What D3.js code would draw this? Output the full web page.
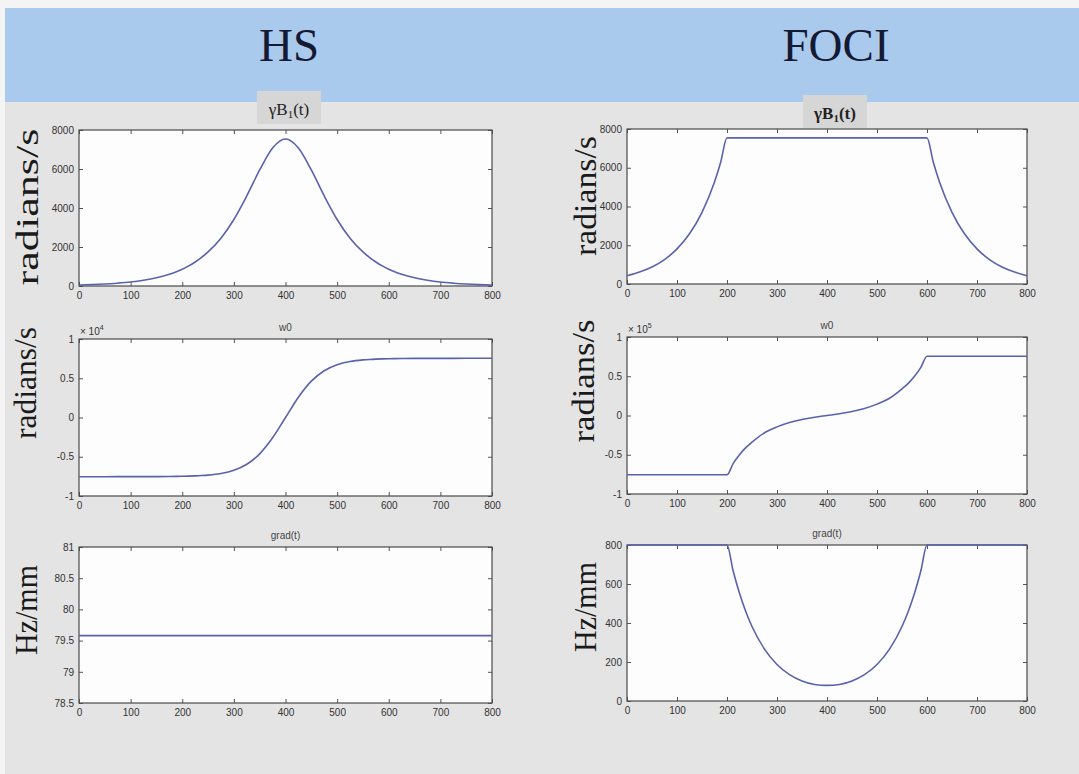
<!DOCTYPE html>
<html>
<head>
<meta charset="utf-8">
<script src="https://cdn.jsdelivr.net/npm/d3@7"></script>
<style>
  body { margin: 0; background: #f4f4f4; }
  svg { display: block; }
</style>
</head>
<body>
<svg id="chart" width="1079" height="774"></svg>
<script>
// sample times (x axis), a bit denser around the FOCI break points
var tGrid = [0, 25, 50, 75, 100, 125, 150, 175, 187.5, 200, 212.5, 225, 237.5, 250, 275, 300, 325, 350, 375, 400,
             425, 450, 475, 500, 525, 550, 562.5, 575, 587.5, 600, 612.5, 625, 650, 675, 700, 725, 750, 775, 800];

// gamma B1(t), radians/s
var hsB1 = [50, 70, 100, 145, 205, 295, 420, 600, 720, 860, 1030, 1230, 1470, 1750, 2450, 3410, 4620, 5950, 7080, 7540,
            7080, 5950, 4620, 3410, 2450, 1750, 1470, 1230, 1030, 860, 720, 600, 420, 295, 205, 145, 100, 70, 50];
var fociB1 = [430, 620, 880, 1260, 1810, 2590, 3700, 5270, 6300, 7540, 7540, 7540, 7540, 7540, 7540, 7540, 7540, 7540, 7540, 7540,
              7540, 7540, 7540, 7540, 7540, 7540, 7540, 7540, 7540, 7540, 6300, 5270, 3700, 2590, 1810, 1260, 880, 620, 430];

// w0, radians/s
var hsW0 = [-7540, -7540, -7539, -7538, -7537, -7534, -7528, -7516, -7505, -7491, -7469, -7439, -7397, -7337, -7133, -6723, -5961, -4627, -2586, 0,
            2586, 4627, 5961, 6723, 7133, 7337, 7397, 7439, 7469, 7491, 7505, 7516, 7528, 7534, 7537, 7538, 7539, 7540, 7540];
var fociW0 = [-75400, -75400, -75400, -75400, -75400, -75400, -75400, -75400, -75400, -75400, -61000, -50000, -41000, -34000, -22000, -14500, -9000, -5000, -2200, 0,
              2200, 5000, 9000, 14500, 22000, 34000, 41000, 50000, 61000, 75400, 75400, 75400, 75400, 75400, 75400, 75400, 75400, 75400, 75400];

// grad(t), Hz/mm
var hsGrad = [79.58, 79.58, 79.58, 79.58, 79.58, 79.58, 79.58, 79.58, 79.58, 79.58, 79.58, 79.58, 79.58, 79.58, 79.58, 79.58, 79.58, 79.58, 79.58, 79.58,
              79.58, 79.58, 79.58, 79.58, 79.58, 79.58, 79.58, 79.58, 79.58, 79.58, 79.58, 79.58, 79.58, 79.58, 79.58, 79.58, 79.58, 79.58, 79.58];
var fociGrad = [800, 800, 800, 800, 800, 800, 800, 800, 800, 800, 665, 552, 459, 382, 266, 187, 135, 103, 85, 80,
                85, 103, 135, 187, 266, 382, 459, 552, 665, 800, 800, 800, 800, 800, 800, 800, 800, 800, 800];

// tick labels
var xTicks = [0, 100, 200, 300, 400, 500, 600, 700, 800];
var b1Ticks = [0, 2000, 4000, 6000, 8000];
var w0Ticks = [-1, -0.5, 0, 0.5, 1];
var hsGradTicks = [78.5, 79, 79.5, 80, 80.5, 81];
var fociGradTicks = [0, 200, 400, 600, 800];

var svg = d3.select('#chart');

// page background
svg.append('rect').attr('x', 5).attr('y', 8).attr('width', 1074).attr('height', 766).attr('fill', '#e4e4e4');
svg.append('rect').attr('x', 5).attr('y', 8).attr('width', 1074).attr('height', 94).attr('fill', '#a9caed');

svg.append('text').attr('x', 289).attr('y', 61).attr('text-anchor', 'middle')
  .style('font-family', 'Liberation Serif, serif').style('font-size', '47px').style('fill', '#141a33').text('HS');
svg.append('text').attr('x', 836).attr('y', 61).attr('text-anchor', 'middle')
  .style('font-family', 'Liberation Serif, serif').style('font-size', '47px').style('fill', '#141a33').text('FOCI');

// gamma B1 title boxes
function b1Title(cx, y0, bold) {
  svg.append('rect').attr('x', cx - 32).attr('y', y0).attr('width', 64).attr('height', 33).attr('fill', '#d6d6d6');
  var t = svg.append('text').attr('x', cx).attr('y', y0 + 24).attr('text-anchor', 'middle')
    .style('font-family', 'Liberation Serif, serif').style('font-size', '17px').style('fill', '#222')
    .style('font-weight', bold ? 'bold' : 'normal');
  t.append('tspan').text('γB');
  t.append('tspan').attr('dy', 3).style('font-size', '11px').text('1');
  t.append('tspan').attr('dy', -3).text('(t)');
}
b1Title(289, 91, false);
b1Title(835, 95, true);

var panels = [
  { x0: 79, x1: 492, y0: 130, y1: 286, dom: [0, 8000], ticks: b1Ticks, mult: 1, vals: hsB1,
    ylab: 'radians/s', labX: 38, labY: 207, labLen: 157 },
  { x0: 627, x1: 1027, y0: 129, y1: 284, dom: [0, 8000], ticks: b1Ticks, mult: 1, vals: fociB1,
    ylab: 'radians/s', labX: 596, labY: 196, labLen: 120 },
  { x0: 79, x1: 492, y0: 339, y1: 496, dom: [-1e4, 1e4], ticks: w0Ticks, mult: 1e4, vals: hsW0,
    title: 'w0', exp: '4', ylab: 'radians/s', labX: 36, labY: 383, labLen: 112 },
  { x0: 627, x1: 1027, y0: 337, y1: 494, dom: [-1e5, 1e5], ticks: w0Ticks, mult: 1e5, vals: fociW0,
    title: 'w0', exp: '5', ylab: 'radians/s', labX: 594, labY: 381, labLen: 123 },
  { x0: 79, x1: 492, y0: 547, y1: 703, dom: [78.5, 81], ticks: hsGradTicks, mult: 1, vals: hsGrad,
    title: 'grad(t)', ylab: 'Hz/mm', labX: 37, labY: 610, labLen: 90 },
  { x0: 627, x1: 1027, y0: 545, y1: 701, dom: [0, 800], ticks: fociGradTicks, mult: 1, vals: fociGrad,
    title: 'grad(t)', ylab: 'Hz/mm', labX: 596, labY: 607, labLen: 90 }
];

panels.forEach(function (p) {
  var x = d3.scaleLinear().domain([0, 800]).range([p.x0, p.x1]);
  var y = d3.scaleLinear().domain(p.dom).range([p.y1, p.y0]);
  var g = svg.append('g');

  g.append('rect').attr('x', p.x0).attr('y', p.y0).attr('width', p.x1 - p.x0).attr('height', p.y1 - p.y0)
    .attr('fill', '#fdfdfd');

  var tv = p.ticks.map(function (v) { return v * p.mult; });
  var fmt = function (v) { return String(+(v / p.mult).toFixed(2)); };

  var ax = [
    g.append('g').attr('transform', 'translate(0,' + p.y1 + ')')
      .call(d3.axisBottom(x).tickValues(xTicks).tickSize(-4).tickPadding(6)),
    g.append('g').attr('transform', 'translate(0,' + p.y0 + ')')
      .call(d3.axisTop(x).tickValues(xTicks).tickSize(-4).tickFormat('')),
    g.append('g').attr('transform', 'translate(' + p.x0 + ',0)')
      .call(d3.axisLeft(y).tickValues(tv).tickFormat(fmt).tickSize(-4).tickPadding(5)),
    g.append('g').attr('transform', 'translate(' + p.x1 + ',0)')
      .call(d3.axisRight(y).tickValues(tv).tickSize(-4).tickFormat(''))
  ];
  ax.forEach(function (a) {
    a.select('.domain').remove();
    a.selectAll('line').attr('stroke', '#555');
    a.selectAll('text').style('font-family', 'Liberation Sans, Arial, sans-serif')
      .style('font-size', '10px').style('fill', '#333');
  });

  g.append('rect').attr('x', p.x0).attr('y', p.y0).attr('width', p.x1 - p.x0).attr('height', p.y1 - p.y0)
    .attr('fill', 'none').attr('stroke', '#4a4a4a').attr('stroke-width', 1.2);

  var line = d3.line()
    .x(function (d, i) { return x(tGrid[i]); })
    .y(function (d) { return y(d); })
    .curve(d3.curveMonotoneX);
  g.append('path').datum(p.vals).attr('d', line)
    .attr('fill', 'none').attr('stroke', '#5a62ad').attr('stroke-width', 1.6);

  if (p.title) {
    g.append('text').attr('x', (p.x0 + p.x1) / 2).attr('y', p.y0 - 8).attr('text-anchor', 'middle')
      .style('font-family', 'Liberation Sans, Arial, sans-serif').style('font-size', '10px').style('fill', '#444')
      .text(p.title);
  }
  if (p.exp) {
    var e = g.append('text').attr('x', p.x0 + 1).attr('y', p.y0 - 4)
      .style('font-family', 'Liberation Sans, Arial, sans-serif').style('font-size', '10px').style('fill', '#333');
    e.append('tspan').text('× 10');
    e.append('tspan').attr('dy', -5).style('font-size', '7px').text(p.exp);
  }

  svg.append('text')
    .attr('transform', 'translate(' + p.labX + ',' + p.labY + ') rotate(-90)')
    .attr('text-anchor', 'middle')
    .attr('textLength', p.labLen).attr('lengthAdjust', 'spacingAndGlyphs')
    .style('font-family', 'Liberation Serif, serif').style('font-size', '31px').style('fill', '#1a1a1a')
    .text(p.ylab);
});
</script>
</body>
</html>
